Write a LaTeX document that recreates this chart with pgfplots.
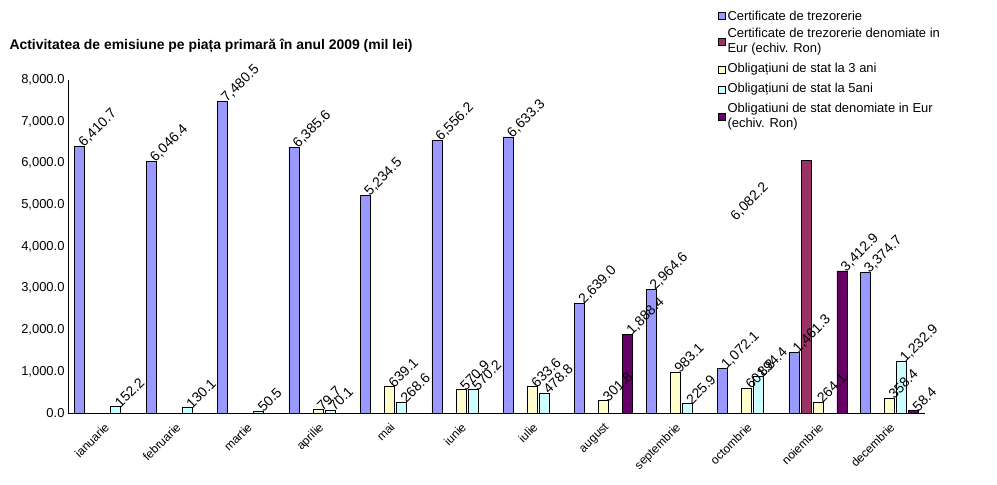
\documentclass[border=0pt]{standalone}
\usepackage{pgfplots}
\pgfplotsset{compat=1.18}
\usepackage{fontspec}
\setmainfont{Liberation Sans}
\definecolor{c1}{HTML}{9999FF}
\definecolor{c2}{HTML}{993366}
\definecolor{c3}{HTML}{FFFFCC}
\definecolor{c4}{HTML}{CCFFFF}
\definecolor{c5}{HTML}{660066}
\begin{document}
\begin{tikzpicture}
\path[use as bounding box] (-68bp,-72bp) rectangle (929bp,413bp);
\begin{axis}[scale only axis, width=857bp, height=333bp,
  ybar=2bp, bar width=10bp, ymin=0, ymax=8000, xmin=-0.5, xmax=11.5,
  ytick={0,1000,...,8000}, xtick={0,...,11},
  xticklabels={ianuarie,februarie,martie,aprilie,mai,iunie,iulie,august,septembrie,octombrie,noiembrie,decembrie},
  xticklabel style={rotate=45, anchor=north east, font=\fontsize{12}{13}\selectfont},
  yticklabel style={font=\fontsize{13}{14}\selectfont},
  /pgf/number format/.cd, fixed, precision=1, zerofill, 1000 sep={,}, assume math mode=true,
  /pgfplots/.cd,
  axis x line*=bottom, axis y line*=left, tick style={draw=none},
  clip=false,
  nodes near coords, every node near coord/.append style={rotate=45, anchor=west, font=\fontsize{14}{15}\selectfont, black, inner sep=2pt},
  legend style={at={(rel axis cs:0.755,1.22)}, anchor=north west, draw=none, font=\fontsize{13}{15}\selectfont, row sep=4pt, legend cell align=left, nodes={text depth={}}},
  legend image code/.code={\draw[#1, draw=black] (0cm,-0.12cm) rectangle (0.24cm,0.12cm);},
  every axis plot/.append style={draw=black, line width=0.5pt},
]
\addplot[fill=c1] coordinates {(0,6410.7)(1,6046.4)(2,7480.5)(3,6385.6)(4,5234.5)(5,6556.2)(6,6633.3)(7,2639.0)(8,2964.6)(9,1072.1)(10,1461.3)(11,3374.7)};
\addplot[fill=c2, every node near coord/.append style={xshift=-95bp, yshift=10bp}] coordinates {(10,6082.2)};
\addplot[fill=c3] coordinates {(3,79.7)(4,639.1)(5,570.9)(6,633.6)(7,301.8)(8,983.1)(9,601.8)(10,264.1)(11,358.4)};
\addplot[fill=c4] coordinates {(0,152.2)(1,130.1)(2,50.5)(3,70.1)(4,268.6)(5,570.2)(6,478.8)(8,225.9)(9,894.4)(11,1232.9)};
\addplot[fill=c5] coordinates {(7,1888.4)(10,3412.94)(11,58.4)};
\legend{Certificate de trezorerie,{\parbox[t]{230bp}{\raggedright Certificate de trezorerie denomiate in Eur (echiv. Ron)}},Obligațiuni de stat la 3 ani,Obligațiuni de stat la 5ani,{\parbox[t]{230bp}{\raggedright Obligatiuni de stat denomiate in Eur (echiv. Ron)}}}
\end{axis}
\node[anchor=west, font=\bfseries\fontsize{14}{16}\selectfont] at (-62bp,367bp) {Activitatea de emisiune pe piața primară în anul 2009 (mil lei)};
\end{tikzpicture}
\end{document}
